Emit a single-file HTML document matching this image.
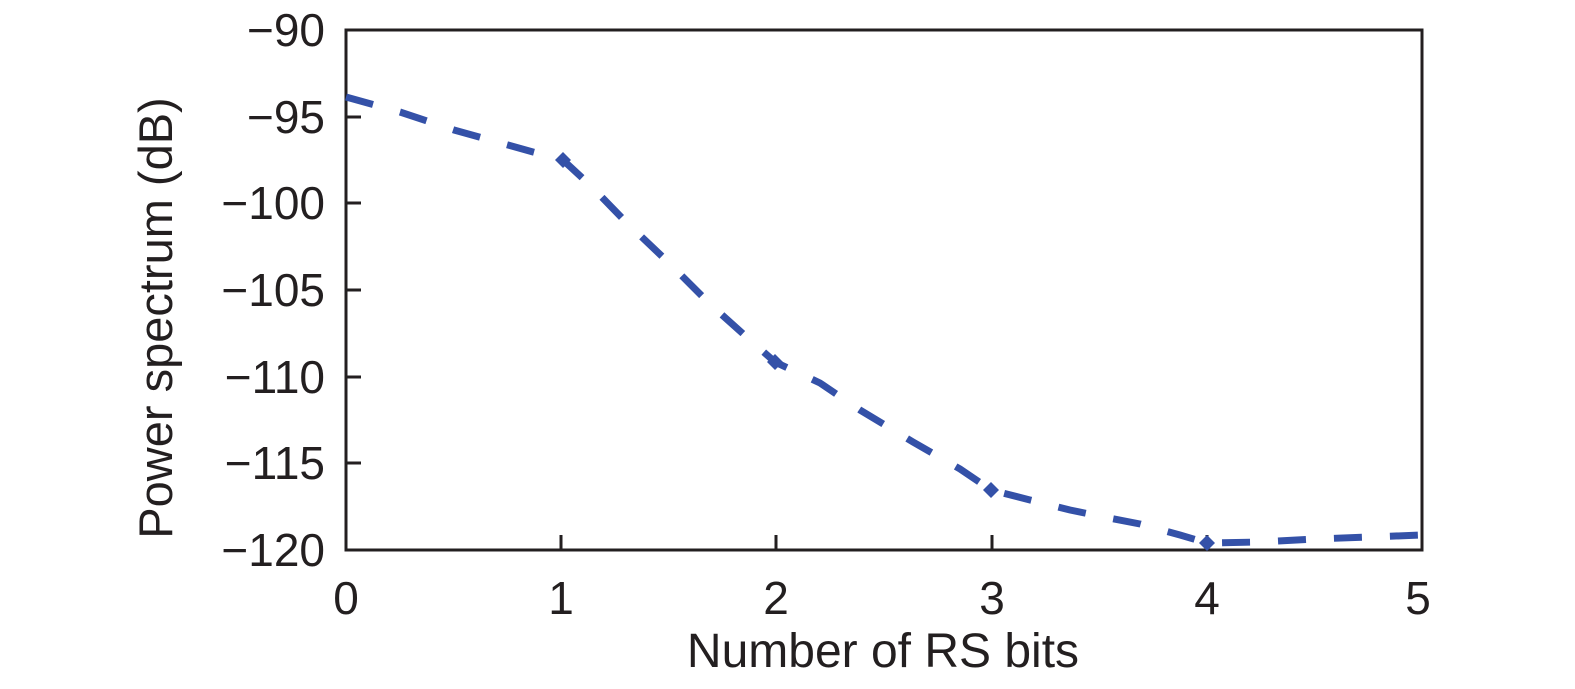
<!DOCTYPE html>
<html><head><style>body{margin:0;background:#fff}svg{display:block}text{font-family:"Liberation Sans",sans-serif;fill:#231f20}</style></head>
<body>
<svg width="1575" height="689" viewBox="0 0 1575 689">
<rect x="346" y="30" width="1076" height="520" fill="none" stroke="#231f20" stroke-width="3"/>
<g stroke="#231f20" stroke-width="3">
<line x1="561" y1="550" x2="561" y2="535"/><line x1="776" y1="550" x2="776" y2="535"/><line x1="992" y1="550" x2="992" y2="535"/><line x1="1207" y1="550" x2="1207" y2="535"/>
<line x1="346" y1="117" x2="361" y2="117"/><line x1="346" y1="203" x2="361" y2="203"/><line x1="346" y1="290" x2="361" y2="290"/><line x1="346" y1="377" x2="361" y2="377"/><line x1="346" y1="463" x2="361" y2="463"/>
</g>
<g font-size="46" text-anchor="end">
<text x="325" y="46">−90</text><text x="325" y="133">−95</text><text x="325" y="219">−100</text><text x="325" y="306">−105</text><text x="325" y="393">−110</text><text x="325" y="479">−115</text><text x="325" y="566">−120</text>
</g>
<g font-size="46" text-anchor="middle">
<text x="346" y="614">0</text><text x="561" y="614">1</text><text x="776" y="614">2</text><text x="992" y="614">3</text><text x="1207" y="614">4</text><text x="1418" y="614">5</text>
<text x="883" y="667" font-size="48">Number of RS bits</text>
<text transform="translate(172,318) rotate(-90)" font-size="47">Power spectrum (dB)</text>
</g>
<polyline fill="none" stroke="#3451a8" stroke-width="7" stroke-dasharray="28 28" points="346,97 400,112 454,130 508,145 533,152 563,160 590,185 626,222 668,262 711,305 750,340 775,362 820,383 860,410 913,442 960,469 991,490 1030,500 1070,510 1099,516 1140,524 1180,535 1207,543 1260,542 1315,539 1370,537 1422,535"/>
<g fill="#3451a8">
<path d="M563,152 l8,8 -8,8 -8,-8z"/><path d="M775,354 l8,8 -8,8 -8,-8z"/><path d="M991,482 l8,8 -8,8 -8,-8z"/><path d="M1207,535 l8,8 -8,8 -8,-8z"/>
</g>
</svg>
</body></html>
